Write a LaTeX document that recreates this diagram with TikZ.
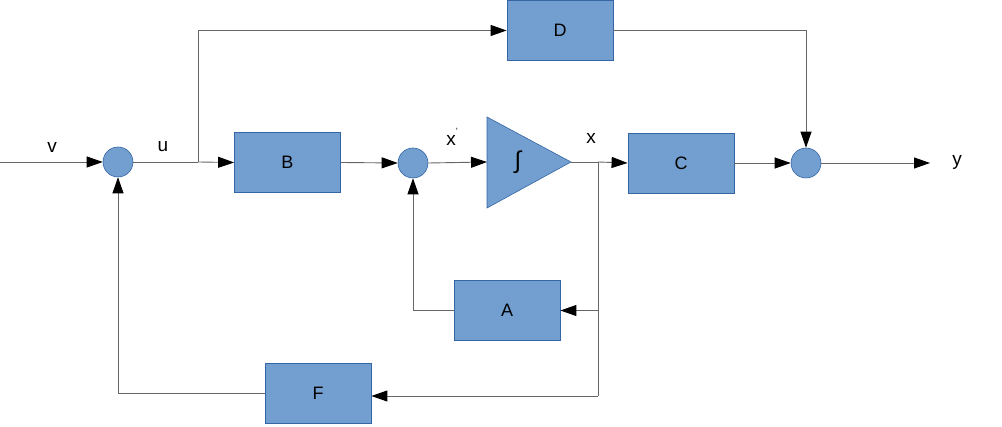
\documentclass[tikz,border=0pt]{standalone}
\usepackage{fontspec}
\setmainfont{Liberation Sans}
\usetikzlibrary{arrows.meta}
\definecolor{blockfill}{HTML}{729FCF}
\definecolor{blockdraw}{HTML}{3465A4}
\definecolor{wirecol}{HTML}{666666}
\begin{document}
\begin{tikzpicture}[x=1pt,y=-1pt,
  blockbox/.style={draw=blockdraw,fill=blockfill,line width=0.8pt,minimum width=106pt,minimum height=60pt,inner sep=0pt,font=\fontsize{18}{20}\selectfont},
  sumnode/.style={circle,draw=blockdraw,fill=blockfill,line width=0.6pt,minimum size=30pt,inner sep=0pt},
  wire/.style={draw=wirecol,line width=0.9pt},
  arr/.style={wire,-{Triangle[length=16pt,width=11pt,color=black]}},
  lbl/.style={font=\fontsize{19}{21}\selectfont,inner sep=0pt}
]
\useasboundingbox (0,0) rectangle (1002,427);

% blocks
\node[blockbox] (D) at (560,30.5) {D};
\node[blockbox] (B) at (287.5,162.5) {B};
\node[blockbox] (C) at (681,163) {C};
\node[blockbox] (A) at (507,310.5) {A};
\node[blockbox] (F) at (318,393.5) {F};

% summing junctions
\node[sumnode] (s1) at (118,162) {};
\node[sumnode] (s2) at (413,163) {};
\node[sumnode] (s3) at (806,163) {};

% integrator
\coordinate (intin) at (487,162);
\coordinate (intout) at (571,162);
\draw[draw=blockdraw,fill=blockfill,line width=0.6pt] (487,117) -- (intout) -- (487,208) -- cycle;
\node[font=\fontsize{24}{26}\selectfont] (integ) at (518,162) {∫};

% helper points
\coordinate (vin) at (0,162);
\coordinate (ubr) at (198,162);
\coordinate (ubrtop) at (198,30.5);
\coordinate (xbr) at (598,162);
\coordinate (xbrA) at (598,310.5);
\coordinate (xbrF) at (598,396);
\coordinate (dcorner) at (806,30.5);
\coordinate (Acorner) at (413,310.5);
\coordinate (Fcorner) at (118,393.5);
\coordinate (yout) at (930,163);

% connectors
\draw[arr] (vin) -- (s1.west);
\draw[wire] (s1.east) -- (ubr);
\draw[arr] (ubr) -- (B.west);
\draw[arr] (ubr) -- (ubrtop) -- (D.west);
\draw[arr] (B.east) -- (s2.west);
\draw[arr] (s2.east) -- (intin);
\draw[wire] (intout) -- (xbr);
\draw[arr] (xbr) -- (C.west);
\draw[arr] (C.east) -- (s3.west);
\draw[arr] (D.east) -- (dcorner) -- (s3.north);
\draw[arr] (s3.east) -- (yout);
\draw[wire] (xbr) -- (xbrF);
\draw[arr] (xbrA) -- (A.east);
\draw[arr] (xbrF) -- (F.east |- xbrF);
\draw[arr] (A.west) -- (Acorner) -- (s2.south);
\draw[arr] (F.west) -- (Fcorner) -- (s1.south);

% labels
\node[lbl] (lv) at (52,147) {v};
\node[lbl] (lu) at (163,147) {u};
\node[lbl] (lxp) at (452,137) {x\raisebox{1.1ex}{\fontsize{9}{9}\selectfont '}};
\node[lbl] (lx) at (591,138) {x};
\node[lbl] (ly) at (957,162) {y};
\end{tikzpicture}
\end{document}
